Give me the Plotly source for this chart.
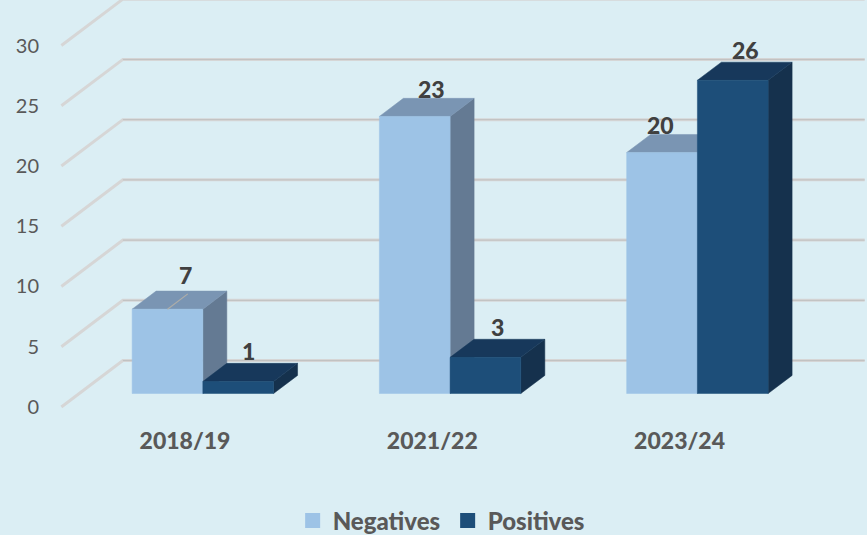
import plotly.graph_objects as go

categories = ["2018/19", "2021/22", "2023/24"]
negatives = [7, 23, 20]
positives = [1, 3, 26]
y_ticks = [0, 5, 10, 15, 20, 25, 30]

# oblique projection of the 3D chart: one unit of depth in axis units
KX, KY = 0.2487, 3.85
BAR_D0, BAR_D1 = 0.29, 0.68
BAR_W = 0.286
BG = "#DBEEF4"
FONT = "Lato"

series = [
    ("Negatives", negatives, -1, "#9DC3E6", "#7A95B3", "#647A93"),
    ("Positives", positives, 0, "#1D4E79", "#17385B", "#15314D"),
]

# manual label placement (px) relative to the front-top centre of each bar
label_shift = {
    "Negatives": [(18, 34), (17, 27), (-1.5, 28)],
    "Positives": [(10, 30), (12, 30), (13, 30)],
}


def proj(x, v, d):
    return x + KX * d, v + KY * d


fig = go.Figure()


def poly(pts, color):
    xs, ys = zip(*pts)
    fig.add_trace(go.Scatter(
        x=list(xs) + [xs[0]], y=list(ys) + [ys[0]], mode="lines", fill="toself",
        fillcolor=color, line=dict(color=color, width=0.5),
        hoverinfo="skip", showlegend=False))


# gridlines: diagonal on the floor side + horizontal along the back wall
for v in y_ticks:
    x0, y0 = -0.5, v
    x1, y1 = proj(-0.5, v, 1)
    x2, y2 = proj(2.5, v, 1)
    fig.add_trace(go.Scatter(x=[x0, x1, x2], y=[y0, y1, y2], mode="lines",
                             line=dict(color="#D6D6D6", width=3),
                             hoverinfo="skip", showlegend=False))
    fig.add_trace(go.Scatter(x=[x1, x2], y=[y1, y2], mode="lines",
                             line=dict(color="#C0C0C0", width=1),
                             hoverinfo="skip", showlegend=False))

annotations = []
for i, cat in enumerate(categories):
    for name, vals, off, front, top, side in series:
        v = vals[i]
        xl = i + off * BAR_W
        xr = xl + BAR_W
        a = proj(xl, 0, BAR_D0)
        b = proj(xr, 0, BAR_D0)
        c = proj(xr, v, BAR_D0)
        e = proj(xl, v, BAR_D0)
        f = proj(xl, v, BAR_D1)
        g = proj(xr, v, BAR_D1)
        h = proj(xr, 0, BAR_D1)
        poly([b, h, g, c], side)
        poly([e, c, g, f], top)
        poly([a, b, c, e], front)
        cx, cy = proj(xl + BAR_W / 2, v, BAR_D0)
        dx, dy = label_shift[name][i]
        annotations.append(dict(x=cx, y=cy, text=str(v), showarrow=False,
                                xshift=dx, yshift=dy, xanchor="center", yanchor="middle",
                                font=dict(family=FONT, size=23, color="#404040", weight=900)))

# leader line of the first label
lx = 0 - BAR_W / 2
p0 = proj(lx, negatives[0], BAR_D0)
p1 = proj(lx, negatives[0], BAR_D1 - 0.06)
fig.add_trace(go.Scatter(x=[p0[0], p1[0]], y=[p0[1], p1[1]], mode="lines",
                         line=dict(color="#AEADA8", width=1.2),
                         hoverinfo="skip", showlegend=False))

for name, vals, off, front, top, side in series:
    fig.add_trace(go.Scatter(x=[None], y=[None], mode="markers", name=name,
                             marker=dict(symbol="square", size=15, color=front)))

fig.update_layout(
    width=867, height=535, autosize=False,
    margin=dict(l=59, r=0, t=0, b=116, autoexpand=False),
    paper_bgcolor=BG, plot_bgcolor=BG,
    annotations=annotations,
    showlegend=True,
    legend=dict(orientation="h", x=0.481, xanchor="center", y=-0.243, yanchor="middle",
                bgcolor="rgba(0,0,0,0)", itemwidth=30, entrywidth=110,
                font=dict(family=FONT, size=24, color="#595959", weight=900),
                itemclick=False, itemdoubleclick=False),
    xaxis=dict(range=[-0.5096, 2.758], tickmode="array", tickvals=list(range(3)),
               ticktext=categories, showgrid=False, zeroline=False, showline=False,
               ticks="", ticklabelstandoff=6, automargin=False,
               tickfont=dict(family=FONT, size=23, color="#595959", weight=900)),
    yaxis=dict(range=[-1, 33.78], tickmode="array", tickvals=y_ticks,
               showgrid=False, zeroline=False, showline=False, ticks="",
               ticklabelstandoff=19, automargin=False,
               tickfont=dict(family=FONT, size=20, color="#595959")),
)

fig.write_html("out.html", config={"displayModeBar": False},
               post_script="document.body.style.margin='0';document.documentElement.style.overflow='hidden';")
